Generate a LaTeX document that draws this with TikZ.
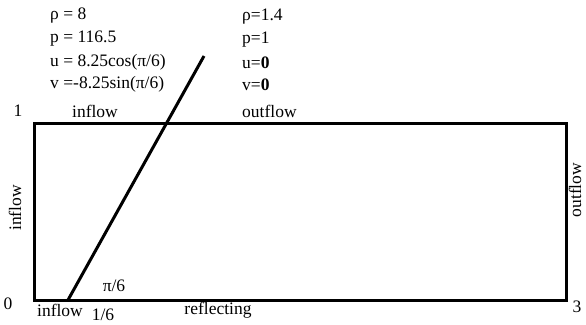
\documentclass[tikz,border=0pt]{standalone}
\usepackage{fontspec}
\setmainfont{Liberation Serif}
\usepackage{xcolor}
\usetikzlibrary{positioning}
\tikzset{
	lbl/.style={
		inner sep=0pt,
		font=\fontsize{17.5}{21}\selectfont
	},
	state/.style={
		lbl,
		anchor=west
	},
	wall/.style={line width=3pt},
	shock/.style={line width=3pt}
}

\begin{document}
\begin{tikzpicture}[x=1pt,y=-1pt]
		\useasboundingbox (0,0) rectangle (586,324);
		\coordinate (sw) at (34,300);
		\coordinate (ne) at (566,123);
		\coordinate (foot) at (68,300);
		\coordinate (tip) at (204,56);

		\draw[wall] (sw) rectangle (ne);
		\draw[shock] (foot) -- (tip);

		% left state
		\node[state] (rhoL) at (50,16) {ρ = 8};
		\node[state] (pL) at (50,39) {p = 116.5};
		\node[state] (uL) at (50,62) {u = 8.25cos(π/6)};
		\node[state] (vL) at (50,84) {v =-8.25sin(π/6)};
		% right state
		\node[state] (rhoR) at (242,17) {ρ=1.4};
		\node[state] (pR) at (242,40) {p=1};
		\node[state] (uR) at (242,63) {u=\textbf{0}};
		\node[state] (vR) at (242,85) {v=\textbf{0}};

		% boundaries
		\node[lbl] (one) at (18,111) {1};
		\node[lbl] (topin) at (95,111) {inflow};
		\node[state] (topout) at (242,111) {outflow};
		\node[lbl,rotate=90] (leftin) at (15,208) {inflow};
		\node[lbl,rotate=90] (rightout) at (575,190) {outflow};
		\node[lbl] (zero) at (8,304) {0};
		\node[lbl] (botin) at (60,310) {inflow};
		\node[lbl] (sixth) at (103,315) {1/6};
		\node[lbl] (angle) at (114,286) {π/6};
		\node[lbl] (refl) at (218,310) {reflecting};
		\node[lbl] (three) at (577,307) {3};
	\end{tikzpicture}
\end{document}
